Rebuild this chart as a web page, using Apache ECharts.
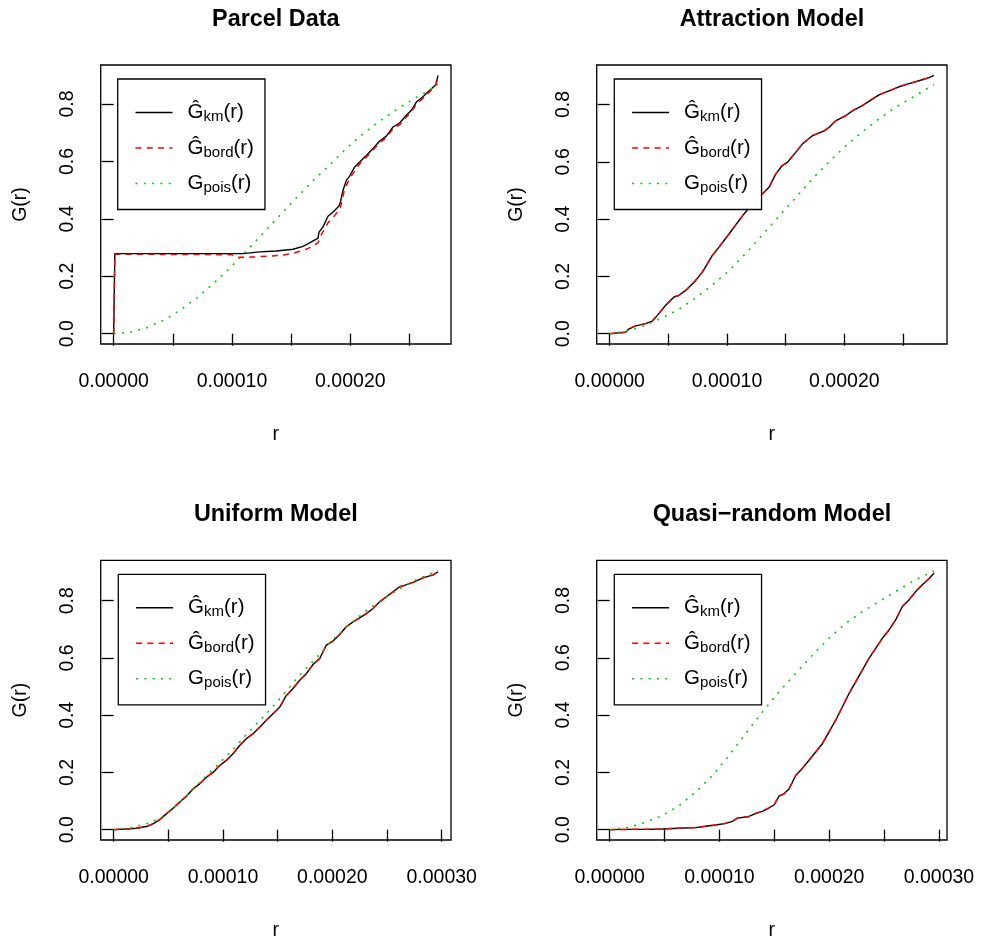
<!DOCTYPE html>
<html><head><meta charset="utf-8">
<script src="https://cdn.jsdelivr.net/npm/echarts@6/dist/echarts.min.js"></script>
<style>html,body{margin:0;padding:0;background:#fff}#c{width:982px;height:937px}</style>
</head><body><div id="c"></div><script>
// ---------------- DATA (r, G(r)) ----------------
const parcelKm = [[0,0],[1.0e-6,0.279],[1.093e-4,0.279],[1.234e-4,0.285],[1.375e-4,0.288],[1.516e-4,0.294],[1.600e-4,0.304],[1.656e-4,0.316],[1.727e-4,0.333],[1.735e-4,0.354],[1.769e-4,0.372],[1.811e-4,0.409],[1.854e-4,0.424],[1.904e-4,0.445],[1.916e-4,0.459],[1.938e-4,0.499],[1.966e-4,0.534],[1.994e-4,0.549],[2.037e-4,0.581],[2.079e-4,0.598],[2.135e-4,0.621],[2.192e-4,0.645],[2.248e-4,0.671],[2.304e-4,0.688],[2.361e-4,0.720],[2.417e-4,0.734],[2.473e-4,0.761],[2.516e-4,0.778],[2.558e-4,0.807],[2.614e-4,0.825],[2.671e-4,0.848],[2.721e-4,0.866],[2.741e-4,0.900]];
const parcelBord = [[0,0],[1.0e-6,0.277],[1.0e-4,0.275],[1.023e-4,0.268],[1.065e-4,0.266],[1.178e-4,0.267],[1.290e-4,0.270],[1.431e-4,0.273],[1.516e-4,0.280],[1.600e-4,0.290],[1.685e-4,0.304],[1.727e-4,0.317],[1.755e-4,0.345],[1.811e-4,0.386],[1.854e-4,0.405],[1.904e-4,0.430],[1.916e-4,0.440],[1.952e-4,0.505],[1.994e-4,0.540],[2.051e-4,0.575],[2.079e-4,0.592],[2.135e-4,0.615],[2.192e-4,0.640],[2.248e-4,0.665],[2.304e-4,0.683],[2.361e-4,0.714],[2.417e-4,0.728],[2.473e-4,0.755],[2.516e-4,0.772],[2.558e-4,0.800],[2.614e-4,0.820],[2.671e-4,0.843],[2.721e-4,0.862],[2.741e-4,0.895]];
const parcelPois = [[0,0],[1.41e-5,0.005],[2.82e-5,0.021],[4.23e-5,0.047],[5.63e-5,0.082],[7.04e-5,0.125],[8.45e-5,0.175],[9.86e-5,0.230],[1.127e-4,0.290],[1.268e-4,0.352],[1.409e-4,0.414],[1.549e-4,0.475],[1.690e-4,0.535],[1.831e-4,0.590],[1.972e-4,0.648],[2.113e-4,0.698],[2.254e-4,0.742],[2.394e-4,0.782],[2.535e-4,0.818],[2.676e-4,0.850],[2.741e-4,0.868]];

const attrKm = [[0,0],[1.364e-5,0.005],[1.648e-5,0.017],[2.216e-5,0.027],[3.068e-5,0.035],[3.636e-5,0.044],[4.063e-5,0.064],[4.773e-5,0.099],[5.483e-5,0.128],[5.909e-5,0.134],[6.477e-5,0.151],[7.330e-5,0.186],[7.898e-5,0.215],[8.324e-5,0.244],[8.750e-5,0.273],[9.318e-5,0.302],[1.0171e-4,0.348],[1.1023e-4,0.395],[1.1449e-4,0.418],[1.1875e-4,0.439],[1.2443e-4,0.470],[1.3012e-4,0.488],[1.3580e-4,0.511],[1.4148e-4,0.557],[1.4716e-4,0.587],[1.5143e-4,0.598],[1.5853e-4,0.633],[1.6421e-4,0.662],[1.7273e-4,0.691],[1.8268e-4,0.708],[1.8694e-4,0.720],[1.9262e-4,0.743],[2.0114e-4,0.761],[2.0682e-4,0.778],[2.1535e-4,0.796],[2.2387e-4,0.819],[2.2955e-4,0.834],[2.3808e-4,0.848],[2.4660e-4,0.862],[2.5512e-4,0.873],[2.6364e-4,0.883],[2.7217e-4,0.894],[2.7643e-4,0.902]];
const attrBord = [[0,0],[1.364e-5,0.005],[1.648e-5,0.017],[2.216e-5,0.027],[3.068e-5,0.035],[3.636e-5,0.044],[4.063e-5,0.064],[4.773e-5,0.099],[5.483e-5,0.128],[5.909e-5,0.134],[6.477e-5,0.151],[7.330e-5,0.186],[7.898e-5,0.215],[8.324e-5,0.244],[8.750e-5,0.273],[9.318e-5,0.302],[1.0171e-4,0.348],[1.1023e-4,0.395],[1.1449e-4,0.418],[1.1875e-4,0.439],[1.2443e-4,0.470],[1.3012e-4,0.488],[1.3580e-4,0.511],[1.4148e-4,0.557],[1.4716e-4,0.587],[1.5143e-4,0.598],[1.5853e-4,0.633],[1.6421e-4,0.662],[1.7273e-4,0.691],[1.8268e-4,0.708],[1.8694e-4,0.720],[1.9262e-4,0.743],[2.0114e-4,0.761],[2.0682e-4,0.778],[2.1535e-4,0.796],[2.2387e-4,0.819],[2.2955e-4,0.834],[2.3808e-4,0.848],[2.4660e-4,0.862],[2.5512e-4,0.873],[2.6364e-4,0.883],[2.7217e-4,0.894],[2.7643e-4,0.902]];
const attrPois = [[0,0],[1.648e-5,0.010],[3.068e-5,0.030],[4.489e-5,0.055],[5.909e-5,0.085],[7.330e-5,0.125],[8.750e-5,0.170],[1.0171e-4,0.220],[1.1591e-4,0.280],[1.3012e-4,0.345],[1.4432e-4,0.410],[1.5853e-4,0.475],[1.7273e-4,0.540],[1.8694e-4,0.600],[2.0114e-4,0.655],[2.1535e-4,0.705],[2.2955e-4,0.750],[2.4376e-4,0.790],[2.5796e-4,0.825],[2.7643e-4,0.870]];

const unifKm = [[0,0],[1.159e-5,0.002],[2.073e-5,0.005],[2.988e-5,0.011],[3.598e-5,0.020],[4.208e-5,0.035],[4.817e-5,0.055],[5.427e-5,0.075],[6.037e-5,0.096],[6.647e-5,0.117],[7.257e-5,0.142],[7.866e-5,0.160],[8.476e-5,0.183],[9.086e-5,0.200],[9.696e-5,0.224],[1.0306e-4,0.242],[1.0915e-4,0.265],[1.1525e-4,0.294],[1.2135e-4,0.318],[1.2745e-4,0.335],[1.3355e-4,0.358],[1.3964e-4,0.382],[1.4574e-4,0.405],[1.5184e-4,0.428],[1.5794e-4,0.469],[1.6404e-4,0.493],[1.7013e-4,0.522],[1.7623e-4,0.545],[1.8233e-4,0.577],[1.8843e-4,0.598],[1.9453e-4,0.645],[2.0062e-4,0.659],[2.0672e-4,0.682],[2.1282e-4,0.709],[2.1892e-4,0.726],[2.2502e-4,0.740],[2.3111e-4,0.755],[2.3721e-4,0.773],[2.4331e-4,0.796],[2.4941e-4,0.814],[2.5551e-4,0.831],[2.6160e-4,0.849],[2.6465e-4,0.852],[2.7380e-4,0.864],[2.8295e-4,0.880],[2.9209e-4,0.890],[2.9667e-4,0.901]];
const unifBord = [[0,0],[1.159e-5,0.002],[2.073e-5,0.005],[2.988e-5,0.011],[3.598e-5,0.020],[4.208e-5,0.035],[4.817e-5,0.055],[5.427e-5,0.075],[6.037e-5,0.096],[6.647e-5,0.117],[7.257e-5,0.142],[7.866e-5,0.160],[8.476e-5,0.183],[9.086e-5,0.200],[9.696e-5,0.224],[1.0306e-4,0.242],[1.0915e-4,0.265],[1.1525e-4,0.294],[1.2135e-4,0.318],[1.2745e-4,0.335],[1.3355e-4,0.358],[1.3964e-4,0.382],[1.4574e-4,0.405],[1.5184e-4,0.428],[1.5794e-4,0.469],[1.6404e-4,0.493],[1.7013e-4,0.522],[1.7623e-4,0.545],[1.8233e-4,0.577],[1.8843e-4,0.598],[1.9453e-4,0.645],[2.0062e-4,0.659],[2.0672e-4,0.682],[2.1282e-4,0.709],[2.1892e-4,0.726],[2.2502e-4,0.740],[2.3111e-4,0.755],[2.3721e-4,0.773],[2.4331e-4,0.796],[2.4941e-4,0.814],[2.5551e-4,0.831],[2.6160e-4,0.849],[2.6465e-4,0.852],[2.7380e-4,0.864],[2.8295e-4,0.880],[2.9209e-4,0.890],[2.9667e-4,0.901]];
const unifPois = [[0,0],[1.768e-5,0.007],[3.293e-5,0.024],[4.817e-5,0.052],[6.342e-5,0.106],[7.866e-5,0.165],[9.391e-5,0.222],[1.0915e-4,0.280],[1.2440e-4,0.345],[1.3964e-4,0.405],[1.5489e-4,0.470],[1.7013e-4,0.540],[1.8538e-4,0.600],[2.0062e-4,0.665],[2.1587e-4,0.718],[2.3111e-4,0.765],[2.4636e-4,0.805],[2.6160e-4,0.842],[2.7685e-4,0.873],[2.9667e-4,0.905]];

const quasiKm = [[0,0],[1.761e-5,0.001],[3.280e-5,0.001],[4.798e-5,0.002],[6.317e-5,0.005],[7.835e-5,0.007],[8.747e-5,0.012],[9.658e-5,0.016],[1.0569e-4,0.022],[1.1176e-4,0.029],[1.1632e-4,0.040],[1.2695e-4,0.046],[1.3302e-4,0.057],[1.3909e-4,0.064],[1.4517e-4,0.076],[1.4972e-4,0.086],[1.5428e-4,0.117],[1.5884e-4,0.125],[1.6339e-4,0.142],[1.6946e-4,0.189],[1.7402e-4,0.207],[1.8161e-4,0.242],[1.8769e-4,0.271],[1.9376e-4,0.300],[1.9983e-4,0.341],[2.0591e-4,0.382],[2.1198e-4,0.428],[2.1806e-4,0.475],[2.2413e-4,0.516],[2.3020e-4,0.557],[2.3628e-4,0.598],[2.4235e-4,0.633],[2.4843e-4,0.668],[2.5450e-4,0.697],[2.6057e-4,0.732],[2.6665e-4,0.779],[2.7272e-4,0.802],[2.7880e-4,0.831],[2.8487e-4,0.855],[2.9094e-4,0.876],[2.9550e-4,0.896]];
const quasiBord = [[0,0],[1.761e-5,0.001],[3.280e-5,0.001],[4.798e-5,0.002],[6.317e-5,0.005],[7.835e-5,0.007],[8.747e-5,0.012],[9.658e-5,0.016],[1.0569e-4,0.022],[1.1176e-4,0.029],[1.1632e-4,0.040],[1.2695e-4,0.046],[1.3302e-4,0.057],[1.3909e-4,0.064],[1.4517e-4,0.076],[1.4972e-4,0.086],[1.5428e-4,0.117],[1.5884e-4,0.125],[1.6339e-4,0.142],[1.6946e-4,0.189],[1.7402e-4,0.207],[1.8161e-4,0.242],[1.8769e-4,0.271],[1.9376e-4,0.300],[1.9983e-4,0.341],[2.0591e-4,0.382],[2.1198e-4,0.428],[2.1806e-4,0.475],[2.2413e-4,0.516],[2.3020e-4,0.557],[2.3628e-4,0.598],[2.4235e-4,0.633],[2.4843e-4,0.668],[2.5450e-4,0.697],[2.6057e-4,0.732],[2.6665e-4,0.779],[2.7272e-4,0.802],[2.7880e-4,0.831],[2.8487e-4,0.855],[2.9094e-4,0.876],[2.9550e-4,0.896]];
const quasiPois = [[0,0],[1.761e-5,0.008],[3.280e-5,0.026],[4.798e-5,0.049],[6.317e-5,0.084],[7.835e-5,0.131],[9.354e-5,0.189],[1.0873e-4,0.259],[1.2391e-4,0.335],[1.3909e-4,0.411],[1.5428e-4,0.481],[1.6946e-4,0.545],[1.8465e-4,0.609],[1.9983e-4,0.668],[2.1502e-4,0.720],[2.3020e-4,0.761],[2.4539e-4,0.796],[2.6057e-4,0.831],[2.7576e-4,0.866],[2.9550e-4,0.904]];

const titles = ['Parcel Data', 'Attraction Model', 'Uniform Model', 'Quasi\u2212random Model'];
const xTicksTop = [0, 5e-5, 1e-4, 1.5e-4, 2e-4, 2.5e-4];
const xLabelsTop = [0, 1e-4, 2e-4];
const xTicksBottom = [0, 5e-5, 1e-4, 1.5e-4, 2e-4, 2.5e-4, 3e-4];
const xLabelsBottom = [0, 1e-4, 2e-4, 3e-4];
const yTicks = [0, 0.2, 0.4, 0.6, 0.8];
const seriesNames = ['km', 'bord', 'pois'];

// ---------------- LAYOUT ----------------
const FONT = '"Liberation Sans", Arial, Helvetica, sans-serif';
const panelData = [
  [parcelKm, parcelBord, parcelPois],
  [attrKm, attrBord, attrPois],
  [unifKm, unifBord, unifPois],
  [quasiKm, quasiBord, quasiPois]
];
const layout = [
  {left: 100.7, top: 65,    width: 350.3, height: 279,   legL: 117.7, legT: 79,    cx: 275.8, ty: 8,   ticks: xTicksTop, labels: xLabelsTop},
  {left: 596.7, top: 65,    width: 350.3, height: 279,   legL: 614.3, legT: 79,    cx: 771.9, ty: 8,   ticks: xTicksTop, labels: xLabelsTop},
  {left: 100.7, top: 560.3, width: 350.3, height: 279.7, legL: 118.3, legT: 574.3, cx: 275.8, ty: 503, ticks: xTicksBottom, labels: xLabelsBottom},
  {left: 596.7, top: 560.3, width: 350.3, height: 279.7, legL: 614.3, legT: 574.3, cx: 771.9, ty: 503, ticks: xTicksBottom, labels: xLabelsBottom}
];
const styles = [
  {color: '#000000', width: 1.4, type: 'solid'},
  {color: '#FF0000', width: 1.5, type: [6, 5.3]},
  {color: '#00CD00', width: 1.6, type: [2, 6.3]}
];
const FS = 19.5;

const option = {
  animation: false,
  backgroundColor: '#ffffff',
  textStyle: {fontFamily: FONT},
  title: [], grid: [], xAxis: [], yAxis: [], legend: [], series: []
};

layout.forEach((L, i) => {
  const sets = panelData[i];
  let rmax = 0, gmax = 0;
  sets.forEach(s => s.forEach(p => { if (p[0] > rmax) rmax = p[0]; if (p[1] > gmax) gmax = p[1]; }));
  option.title.push({
    text: titles[i], left: L.cx, top: L.ty, textAlign: 'center', padding: 0,
    textStyle: {fontFamily: FONT, fontSize: 23.4, fontWeight: 'bold', color: '#000'}
  });
  option.grid.push({
    left: L.left, top: L.top, width: L.width, height: L.height, show: true,
    borderColor: '#000', borderWidth: 1.3, backgroundColor: 'transparent',
    containLabel: false, outerBoundsMode: 'none'
  });
  option.xAxis.push({
    type: 'value', gridIndex: i, min: -0.04 * rmax, max: 1.04 * rmax,
    axisLine: {show: false}, splitLine: {show: false},
    axisTick: {show: true, inside: false, length: 12, customValues: L.ticks, lineStyle: {color: '#000', width: 1.3}},
    axisLabel: {show: true, customValues: L.labels, margin: 28, color: '#000', fontSize: FS, fontFamily: FONT,
      formatter: v => Number(v).toFixed(5)},
    name: 'r', nameLocation: 'middle', nameGap: 81,
    nameTextStyle: {color: '#000', fontSize: FS, fontFamily: FONT}
  });
  option.yAxis.push({
    type: 'value', gridIndex: i, min: -0.04 * gmax, max: 1.04 * gmax,
    axisLine: {show: false}, splitLine: {show: false},
    axisTick: {show: true, inside: false, length: 12, customValues: yTicks, lineStyle: {color: '#000', width: 1.3}},
    axisLabel: {show: true, customValues: yTicks, rotate: 90, margin: 23, color: '#000', fontSize: FS, fontFamily: FONT,
      formatter: v => Number(v).toFixed(1)},
    name: 'G(r)', nameLocation: 'middle', nameGap: 70, nameRotate: 90,
    nameTextStyle: {color: '#000', fontSize: FS, fontFamily: FONT}
  });
  option.legend.push({
    left: L.legL, top: L.legT, orient: 'vertical', selectedMode: false,
    padding: [23, 11, 14, 17], itemGap: 13, itemWidth: 37, itemHeight: 24,
    borderColor: '#000', borderWidth: 1.3, borderRadius: 0, backgroundColor: '#fff',
    data: seriesNames.map((n, k) => ({
      name: n,
      itemStyle: {opacity: 0, borderWidth: 0},
      lineStyle: {color: styles[k].color, width: styles[k].width, type: styles[k].type, opacity: 1}
    })),
    formatter: n => n === 'pois' ? '{g|G}{s|pois}{p|(r)}' : '{g|\u011C}{s|' + n + '}{p|(r)}',
    textStyle: {
      color: '#000', fontFamily: FONT, fontSize: FS,
      rich: {
        g: {fontSize: 20.5, fontFamily: FONT, color: '#000', lineHeight: 24, padding: [0, 0, 0, 10]},
        s: {fontSize: 15, fontFamily: FONT, color: '#000', lineHeight: 14, verticalAlign: 'bottom'},
        p: {fontSize: 20.5, fontFamily: FONT, color: '#000', lineHeight: 24}
      }
    }
  });
  sets.forEach((s, k) => {
    option.series.push({
      type: 'line', name: seriesNames[k], xAxisIndex: i, yAxisIndex: i, data: s,
      symbol: 'none', showSymbol: false, silent: true, z: 2 + k,
      lineStyle: {color: styles[k].color, width: styles[k].width, type: styles[k].type},
      itemStyle: {color: styles[k].color}
    });
  });
});

const chart = echarts.init(document.getElementById('c'), null, {renderer: 'canvas'});
chart.setOption(option);
</script></body></html>
